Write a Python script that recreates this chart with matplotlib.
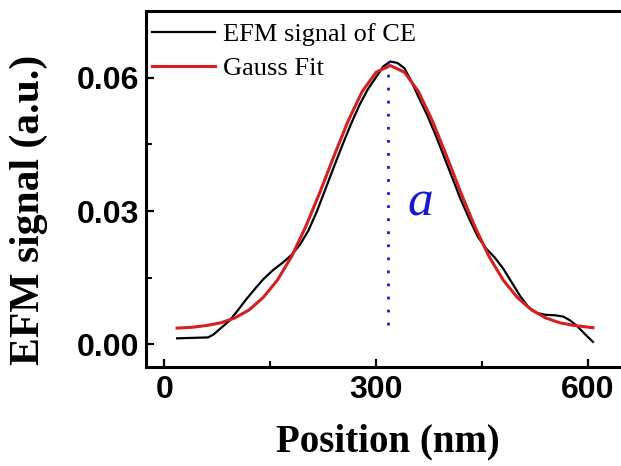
import matplotlib
matplotlib.use('Agg')
import matplotlib.pyplot as plt
from matplotlib.ticker import MultipleLocator

# measured EFM signal (black)
pos_efm = [18, 40, 62, 70, 80, 93, 105, 115, 128, 140, 154, 168, 180, 192, 204,
           216, 228, 240, 252, 264, 276, 288, 300, 310, 320, 330, 340, 350, 360,
           372, 384, 396, 408, 420, 432, 444, 456, 468, 480, 492, 504, 516, 528,
           540, 553, 565, 575, 585, 596, 607]
sig_efm = [0.0013, 0.0014, 0.0015, 0.0022, 0.0036, 0.0054, 0.0078, 0.0099, 0.0124,
           0.0146, 0.0167, 0.0184, 0.0201, 0.0224, 0.0256, 0.0299, 0.0349, 0.0399,
           0.0448, 0.0495, 0.0538, 0.0574, 0.0602, 0.0626, 0.0637, 0.0634, 0.0622,
           0.0592, 0.0557, 0.0517, 0.0472, 0.0423, 0.0374, 0.0325, 0.0282, 0.0242,
           0.0215, 0.0195, 0.0170, 0.0139, 0.0108, 0.0083, 0.0070, 0.0066, 0.0065,
           0.0062, 0.0053, 0.0040, 0.0022, 0.0005]

# Gauss fit (red)
pos_fit = [18, 40, 60, 80, 100, 120, 140, 160, 180, 200, 220, 240, 260, 280, 300,
           320, 340, 360, 380, 400, 420, 440, 460, 480, 500, 520, 540, 560, 580, 607]
sig_fit = [0.0036, 0.0038, 0.0042, 0.0048, 0.0059, 0.0077, 0.0105, 0.0144, 0.0197,
           0.0264, 0.0341, 0.0423, 0.0502, 0.0569, 0.0613, 0.0628, 0.0613, 0.0569,
           0.0502, 0.0423, 0.0341, 0.0264, 0.0197, 0.0144, 0.0105, 0.0077, 0.0059,
           0.0048, 0.0042, 0.0037]

peak_x = 317
peak_line = [0.0043, 0.0638]

fig = plt.figure(figsize=(6.21, 4.66), dpi=100)
ax = fig.add_axes([146/621, 1 - 366.7/466, 478/621, 355.7/466])

ax.plot(pos_efm, sig_efm, color='black', lw=1.6, label='EFM signal of CE')
ax.plot(pos_fit, sig_fit, color='#d42020', lw=2.2, label='Gauss Fit')
ax.plot([peak_x, peak_x], peak_line, color='#1818d0', lw=2.0,
        linestyle=(0, (1, 3.7)))
ax.text(362, 0.0318, 'a', color='#1818d0', fontsize=37, fontstyle='italic',
        family='Liberation Serif', ha='center', va='center')

ax.set_xlim(-26, 651)
ax.set_ylim(-0.0051, 0.0751)
ax.xaxis.set_major_locator(MultipleLocator(300))
ax.xaxis.set_minor_locator(MultipleLocator(150))
ax.yaxis.set_minor_locator(MultipleLocator(0.015))
ax.set_yticks([0.0, 0.03, 0.06])
ax.set_yticklabels(['0.00', '0.03', '0.06'])

for sp in ax.spines.values():
    sp.set_linewidth(2.2)
ax.tick_params(which='major', direction='in', length=6, width=1.6, pad=5,
               labelsize=23)
ax.tick_params(which='minor', direction='in', length=4, width=1.4)
ax.tick_params(axis='x', pad=6)
for lab in ax.get_xticklabels() + ax.get_yticklabels():
    lab.set_family('Liberation Sans')
    lab.set_fontweight('bold')

ax.set_xlabel('Position (nm)', family='Liberation Serif', fontweight='bold',
              fontsize=28)
ax.set_ylabel('EFM signal (a.u.)', family='Liberation Serif', fontweight='bold',
              fontsize=30)
ax.xaxis.set_label_coords(0.505, -0.16)
ax.yaxis.set_label_coords(-0.205, 0.44)

ax.legend(loc='upper left', bbox_to_anchor=(-0.012, 1.0), frameon=False,
          prop={'family': 'Liberation Serif', 'size': 19},
          handlelength=2.4, handletextpad=0.3, labelspacing=0.4,
          borderaxespad=0.25, borderpad=0.2)

fig.savefig('out.png', dpi=100)
